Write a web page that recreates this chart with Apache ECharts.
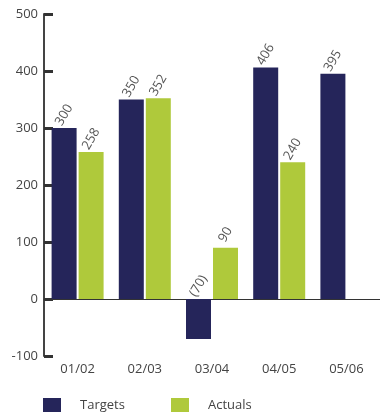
<!DOCTYPE html>
<html>
<head>
<meta charset="utf-8">
<script src="https://cdn.jsdelivr.net/npm/echarts@6/dist/echarts.min.js"></script>
<style>
  html, body { margin: 0; padding: 0; background: #fff; }
  #chart { width: 380px; height: 415px; }
</style>
</head>
<body>
<div id="chart"></div>
<script>
const categories = ['01/02', '02/03', '03/04', '04/05', '05/06'];
const targets = [300, 350, -70, 406, 395];
const actuals = [258, 352, 90, 240, null];
const yTicks = [-100, 0, 100, 200, 300, 400, 500];

const navy = '#25255a';
const green = '#afc93b';
const font = 'Open Sans';

// label over each bar, negative numbers in brackets
const barLabel = {
  show: true,
  position: 'top',
  rotate: 60,
  align: 'center',
  verticalAlign: 'middle',
  distance: 13,
  color: '#555',
  fontFamily: font,
  fontSize: 13,
  formatter: p => p.value < 0 ? '(' + Math.abs(p.value) + ')' : String(p.value)
};

const legendText = { fontFamily: font, fontSize: 13, color: '#444', padding: [0, 0, 0, 14] };

const chart = echarts.init(document.getElementById('chart'));
chart.setOption({
  animation: false,
  grid: { left: 44, top: 14, bottom: 59, right: -6 },
  legend: [
    { data: ['Targets'], left: 43, top: 398, padding: 0, itemWidth: 18, itemHeight: 14, icon: 'rect', textStyle: legendText },
    { data: ['Actuals'], left: 171, top: 398, padding: 0, itemWidth: 18, itemHeight: 14, icon: 'rect', textStyle: legendText }
  ],
  xAxis: [
    {
      type: 'category',
      data: categories,
      axisLine: { onZero: true, lineStyle: { color: '#333', width: 1 } },
      axisTick: { inside: true, length: 8, lineStyle: { color: '#333' } },
      axisLabel: { show: false }
    },
    {
      type: 'category',
      data: categories,
      position: 'bottom',
      axisLine: { show: false, onZero: false },
      axisTick: { show: false },
      axisLabel: { margin: 7, color: '#444', fontFamily: font, fontSize: 13 }
    }
  ],
  yAxis: {
    type: 'value',
    min: yTicks[0],
    max: yTicks[yTicks.length - 1],
    interval: 100,
    splitLine: { show: false },
    axisLine: { show: true, lineStyle: { color: '#444', width: 2 } },
    axisTick: { show: true, inside: true, length: 9, lineStyle: { color: '#333', width: 3 } },
    axisLabel: { margin: 6, color: '#444', fontFamily: font, fontSize: 13 }
  },
  series: [
    {
      name: 'Targets', type: 'bar', data: targets, xAxisIndex: 0,
      barWidth: 25, barGap: '8%',
      itemStyle: { color: navy },
      label: barLabel
    },
    {
      name: 'Actuals', type: 'bar', data: actuals, xAxisIndex: 0,
      barWidth: 25,
      itemStyle: { color: green },
      label: barLabel
    }
  ]
});
</script>
</body>
</html>
